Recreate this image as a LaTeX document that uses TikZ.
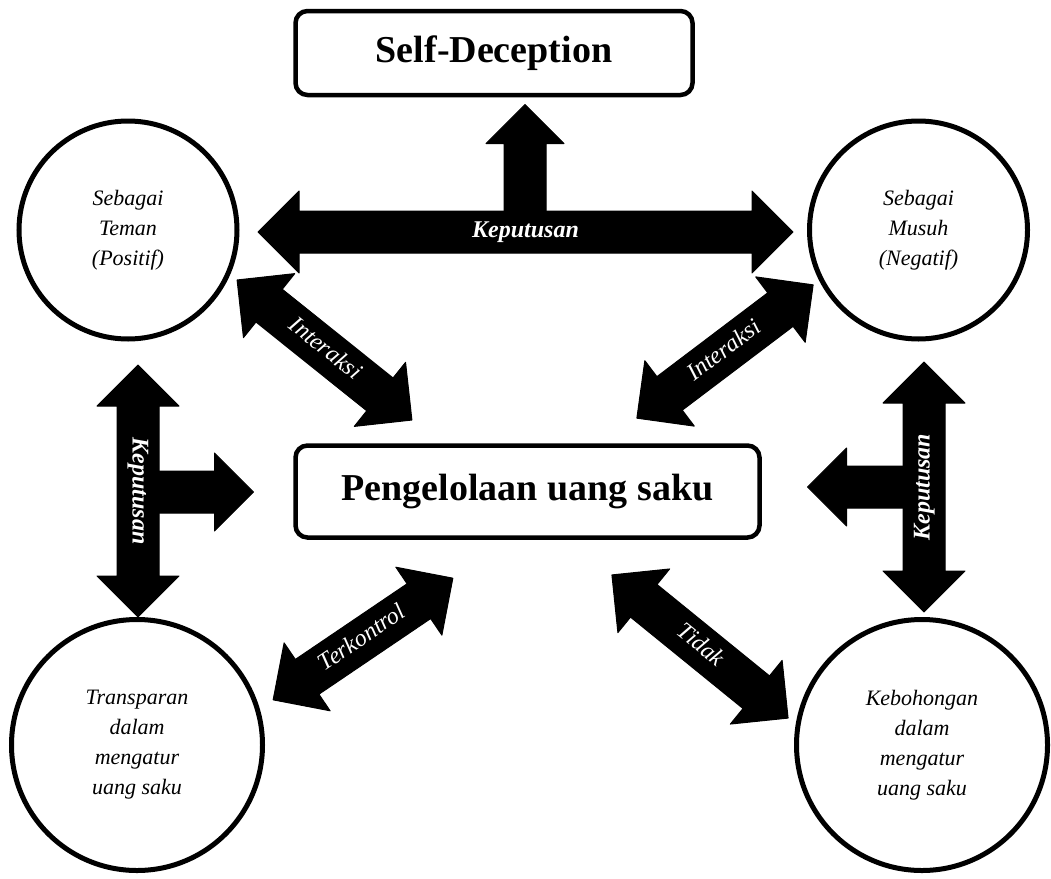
\documentclass[tikz,border=0pt]{standalone}
\usepackage{fontspec}
\setmainfont{Liberation Serif}
\usetikzlibrary{shapes.arrows}

\tikzset{
  kotak/.style = {draw=black, line width=4.5pt, rounded corners=12pt, fill=white,
    font=\fontsize{38}{40}\selectfont\bfseries, inner sep=0pt},% kotak judul
  ling/.style = {circle, draw=black, line width=5pt, fill=white, align=center,
    font=\fontsize{22}{30}\selectfont\itshape, inner sep=0pt},% lingkaran
  panah_d/.style = {double arrow, fill=black, draw=black, line width=1pt, line join=round,
    text=white, font=\fontsize{24}{24}\selectfont\itshape, text height=16pt, text depth=5pt,
    inner ysep=10pt, inner xsep=0pt, double arrow head extend=20pt},% panah dua arah
  panah_s/.style = {single arrow, fill=black, draw=black, line width=1pt, line join=round,
    text height=16pt, text depth=5pt, inner ysep=10pt, inner xsep=0pt,
    single arrow head extend=18pt}% panah satu arah
}

\begin{document}
\begin{tikzpicture}[x=1pt, y=-1pt]
  \useasboundingbox (0,0) rectangle (1051,878);

  % panah atas (Keputusan)
  \node [panah_s, minimum height=117pt, rotate=90] (p_atas) at (525,173.5) {};
  \node [panah_d, minimum height=535pt, font=\fontsize{24}{24}\selectfont\bfseries\itshape] (k_atas) at (525.5,232) {Keputusan};

  % panah kiri dan kanan (Keputusan)
  \node [panah_s, minimum height=105pt] (p_kiri) at (190.5,492) {};
  \node [panah_d, minimum height=252pt, rotate=-90, font=\fontsize{24}{24}\selectfont\bfseries\itshape] (k_kiri) at (138,491) {Keputusan};
  \node [panah_s, minimum height=106pt, rotate=180] (p_kanan) at (871,487) {};
  \node [panah_d, minimum height=250pt, rotate=90, font=\fontsize{24}{24}\selectfont\bfseries\itshape] (k_kanan) at (924,487) {Keputusan};

  % panah miring
  \node [panah_d, minimum height=224pt, rotate=-38.7] (i_kiri) at (324.5,350) {Interaksi};
  \node [panah_d, minimum height=221pt, rotate=37.1] (i_kanan) at (725,351.5) {Interaksi};
  \node [panah_d, minimum height=217pt, rotate=34.1] (terk) at (363,639) {Terkontrol};
  \node [panah_d, minimum height=227pt, rotate=-39.1] (tidak) at (700,646.5) {Tidak};

  % kotak
  \node [kotak, minimum width=397pt, minimum height=84pt] (self) at (494,53) {Self-Deception};
  \node [kotak, minimum width=464pt, minimum height=92pt] (uang) at (527.5,491.5) {Pengelolaan uang saku};

  % lingkaran
  \node [ling, minimum size=218pt] (teman) at (128,230) {Sebagai\\Teman\\(Positif)};
  \node [ling, minimum size=218pt] (musuh) at (918.5,230) {Sebagai\\Musuh\\(Negatif)};
  \node [ling, minimum size=251pt] (trans) at (137,745) {Transparan\\dalam\\mengatur\\uang saku};
  \node [ling, minimum size=251pt] (bohong) at (922,745) {Kebohongan\\dalam\\mengatur\\uang saku};
\end{tikzpicture}
\end{document}
